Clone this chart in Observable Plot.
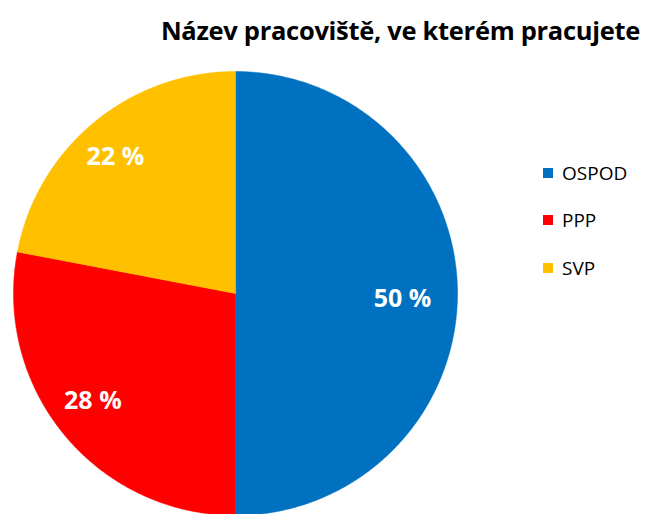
<!DOCTYPE html>
<html>
<head>
<meta charset="utf-8">
<script src="https://cdn.jsdelivr.net/npm/d3@7"></script>
<script src="https://cdn.jsdelivr.net/npm/@observablehq/plot@0.6"></script>
<style>
  body { margin: 0; background: #fff; }
  #wrap { position: relative; width: 646px; height: 514px; overflow: hidden; font-family: "Open Sans", sans-serif; }
  #title { position: absolute; right: 6px; top: 12px; font-size: 25.5px; line-height: 36px; font-weight: bold; color: #000; white-space: nowrap; letter-spacing: -0.3px; }
  #legend { position: absolute; left: 543px; top: 149px; font-size: 19px; color: #000; }
  .item { display: flex; align-items: center; height: 47.5px; }
  .sw { width: 10px; height: 10px; margin-right: 9px; }
  #chart { position: absolute; left: 0; top: 0; }
</style>
</head>
<body>
<div id="wrap">
  <div id="chart"></div>
  <div id="title">Název pracoviště, ve kterém pracujete</div>
  <div id="legend"></div>
</div>
<script>
const categories = ["OSPOD", "PPP", "SVP"];
const values = [50, 28, 22];
const colors = ["#0070C0", "#FF0000", "#FFC000"];
const labels = ["50 %", "28 %", "22 %"];

const data = categories.map((c, i) => ({category: c, value: values[i], label: labels[i]}));
const pie = d3.pie().value(d => d.value).sort(null)(data);

// polygon points for each slice (unit circle, angle 0 at top, clockwise)
const pts = [];
pie.forEach(p => {
  const n = 240;
  pts.push({category: p.data.category, x: 0, y: 0});
  for (let k = 0; k <= n; k++) {
    const a = p.startAngle + (p.endAngle - p.startAngle) * k / n;
    pts.push({category: p.data.category, x: Math.sin(a), y: Math.cos(a)});
  }
  pts.push({category: p.data.category, x: 0, y: 0});
});
const labelFrac = [0.5, 0.54, 0.49];
const labelRad = [0.752, 0.79, 0.835];
const labelPos = pie.map((p, i) => {
  const a = p.startAngle + (p.endAngle - p.startAngle) * labelFrac[i];
  const r = labelRad[i];
  return {label: p.data.label, x: r * Math.sin(a), y: r * Math.cos(a)};
});

const R = 222, cx = 235, cy = 293, W = 646, H = 514;
const chart = Plot.plot({
  width: W, height: H,
  margin: 0,
  x: {domain: [-cx / R, (W - cx) / R], axis: null},
  y: {domain: [-(H - cy) / R, cy / R], axis: null},
  color: {domain: categories, range: colors},
  marks: [
    Plot.line(pts, {x: "x", y: "y", z: "category", fill: "category", stroke: "category", strokeWidth: 0.5, curve: "linear"}),
    Plot.text(labelPos, {x: "x", y: "y", text: "label", fill: "white", fontSize: 25, fontWeight: "bold", fontFamily: "Open Sans", dy: 5})
  ]
});
document.getElementById("chart").appendChild(chart);

const leg = document.getElementById("legend");
categories.forEach((c, i) => {
  const d = document.createElement("div");
  d.className = "item";
  d.innerHTML = `<span class="sw" style="background:${colors[i]}"></span><span>${c}</span>`;
  leg.appendChild(d);
});
</script>
</body>
</html>
